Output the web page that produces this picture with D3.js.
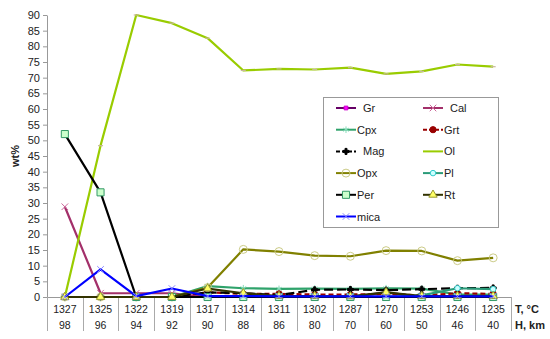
<!DOCTYPE html>
<html><head><meta charset="utf-8">
<script src="https://cdn.jsdelivr.net/npm/d3@7"></script>
<style>body{margin:0;background:#fff}svg{display:block;font-family:"Liberation Sans",Arial,sans-serif}</style>
</head><body><svg id="c" width="550" height="339"></svg>
<script>
const temps = ["1327","1325","1322","1319","1317","1314","1311","1302","1287","1270","1253","1246","1235"];
const depths = ["98","96","94","92","90","88","86","80","70","60","50","46","40"];
const yTicks = d3.range(0, 91, 5);

const Gr   = [0,0,0,0,0,0,0,0,0,1.5,0,0,0];
const Cal  = [28.8,1.2,1.2,1.2,0,0,0,0,0,0,0,0,0];
const Cpx  = [0,0,0,0,3.5,2.8,2.6,2.7,2.6,2.8,2.7,0.8,0.8];
const Grt  = [0,0,0,0,1.5,1.0,1.0,0.8,0.8,1.0,0.5,1.2,1.0];
const Mag  = [0,0,0,0,1.5,1.2,0.6,2.3,2.4,2.2,2.5,2.8,2.9];
const Ol   = [0,48.3,90,87.4,82.6,72.3,72.8,72.6,73.2,71.2,72,74.2,73.5];
const Opx  = [0,0,0,0,3,15.2,14.5,13.2,13.0,14.8,14.7,11.6,12.5];
const Pl   = [0,0,0,0,0,0,0,0,0,0,0.5,2.8,2.5];
const Per  = [52,33.4,0,0,0,0,0,0,0,0,0,0,0];
const Rt   = [0,0,0,0,2.7,1.2,0.3,0.3,0.2,1.5,0.3,0.3,0.3];
const mica = [0,8.8,0.3,2.7,0.3,0.3,0.2,0.2,0.2,0.2,0.2,0.2,0.2];

const series = [
  {name:"Gr", values:Gr, color:"#660066", dash:null, sym:d3.symbolSquare, size:14, fill:"#ff00ff", stroke:"#cc00cc", lead:true},
  {name:"Cal", values:Cal, color:"#a3306a", dash:null, sym:d3.symbolX, size:30, fill:"none", stroke:"#cc6699", lead:true},
  {name:"Cpx", values:Cpx, color:"#2fa36b", dash:null, sym:d3.symbolAsterisk, size:30, fill:"none", stroke:"#88ddbb"},
  {name:"Grt", values:Grt, color:"#990000", dash:"5,3", sym:d3.symbolCircle, size:30, fill:"#990000", stroke:"#990000"},
  {name:"Mag", values:Mag, color:"#000000", dash:"9,4", sym:d3.symbolCross, size:20, fill:"#000", stroke:"#000", lead:true},
  {name:"Ol", values:Ol, color:"#99cc00", dash:null, sym:null},
  {name:"Opx", values:Opx, color:"#808000", dash:null, sym:d3.symbolCircle, size:50, fill:"none", stroke:"#cccc88"},
  {name:"Pl", values:Pl, color:"#2a9a78", dash:null, sym:d3.symbolCircle, size:24, fill:"#ccffff", stroke:"#33cccc"},
  {name:"Per", values:Per, color:"#000000", dash:null, sym:d3.symbolSquare, size:50, fill:"#ccffcc", stroke:"#339966"},
  {name:"Rt", values:Rt, color:"#333300", dash:null, sym:d3.symbolTriangle, size:30, fill:"#ffff66", stroke:"#999933"},
  {name:"mica", values:mica, color:"#0000ff", dash:null, sym:d3.symbolX, size:30, fill:"none", stroke:"#8888ff"}
];

const svg = d3.select("#c");
const x = d3.scaleBand().domain(temps).range([47, 511]);
const y = d3.scaleLinear().domain([0, 90]).range([297, 15]);
const cx = i => x(temps[i]) + x.bandwidth()/2;

// y axis
const ya = svg.append("g").attr("transform","translate(47,0)")
  .call(d3.axisLeft(y).tickValues(yTicks).tickSize(4).tickPadding(3).tickSizeOuter(0));
ya.select(".domain").attr("stroke","#999");
ya.selectAll(".tick line").attr("stroke","#999");
ya.selectAll(".tick text").attr("font-size","11px").attr("fill","#222").attr("font-family","Liberation Sans, Arial, sans-serif");

svg.append("text").attr("transform","translate(19,156) rotate(-90)")
  .attr("text-anchor","middle").attr("font-size","11px").attr("font-weight","bold").attr("fill","#222").text("wt%");

// x axis as table
const g = svg.append("g");
g.append("line").attr("x1",47).attr("x2",511).attr("y1",297.5).attr("y2",297.5).attr("stroke","#999");
const bounds = temps.map(t => x(t)).concat([x.range()[1]]);
g.selectAll("line.div").data(bounds).join("line").attr("class","div")
  .attr("x1",d=>Math.round(d)+0.5).attr("x2",d=>Math.round(d)+0.5)
  .attr("y1",297).attr("y2",331).attr("stroke","#aaa");
g.selectAll("text.t").data(temps).join("text").attr("class","t")
  .attr("x",(d,i)=>cx(i)).attr("y",313).attr("text-anchor","middle")
  .attr("font-size","10.5px").attr("fill","#222").text(d=>d);
g.selectAll("text.h").data(depths).join("text").attr("class","h")
  .attr("x",(d,i)=>cx(i)).attr("y",329).attr("text-anchor","middle")
  .attr("font-size","10.5px").attr("fill","#222").text(d=>d);
g.append("text").attr("x",515).attr("y",313).attr("font-size","11px").attr("font-weight","bold").attr("fill","#222").text("T, °C");
g.append("text").attr("x",515).attr("y",329).attr("font-size","11px").attr("font-weight","bold").attr("fill","#222").text("H, km");

// series
const line = d3.line().x((d,i)=>cx(i)).y(d=>y(d));
series.forEach(s => {
  const sg = svg.append("g");
  sg.append("path").datum(s.values).attr("d", line).attr("fill","none")
    .attr("stroke", s.color).attr("stroke-width", 2.2)
    .attr("stroke-dasharray", s.dash).attr("stroke-linejoin","round");
  if (s.sym) {
    sg.selectAll("path.m").data(s.values).join("path").attr("class","m")
      .attr("transform",(d,i)=>`translate(${cx(i)},${y(d)})`)
      .attr("d", d3.symbol().type(s.sym).size(s.size))
      .attr("fill", s.fill).attr("stroke", s.stroke).attr("stroke-width",1);
  } else {
    sg.selectAll("path.m").data(s.values).join("path").attr("class","m")
      .attr("d",(d,i)=>`M${cx(i)-2.5},${y(d)}h5`).attr("stroke","#c8b89a").attr("stroke-width",1.2);
  }
});

// legend
const lg = svg.append("g");
lg.append("rect").attr("x",323.5).attr("y",97.5).attr("width",175).attr("height",130)
  .attr("fill","#fff").attr("stroke","#999");
series.forEach((s, k) => {
  const col = k % 2, row = Math.floor(k/2);
  const lx = col ? 423 : 336, ly = 108 + row*21.7;
  const it = lg.append("g");
  it.append("line").attr("x1",lx).attr("x2",lx+20).attr("y1",ly).attr("y2",ly)
    .attr("stroke",s.color).attr("stroke-width",2).attr("stroke-dasharray", s.dash ? "4,2" : null);
  if (s.sym) it.append("path").attr("transform",`translate(${lx+10},${ly})`)
    .attr("d", d3.symbol().type(s.sym).size(s.size)).attr("fill",s.fill).attr("stroke",s.stroke);
  it.append("text").attr("x", lx + 21 + (s.lead ? 6 : 0)).attr("y", ly+4)
    .attr("font-size","11px").attr("fill","#222").text(s.name);
});
</script></body></html>
